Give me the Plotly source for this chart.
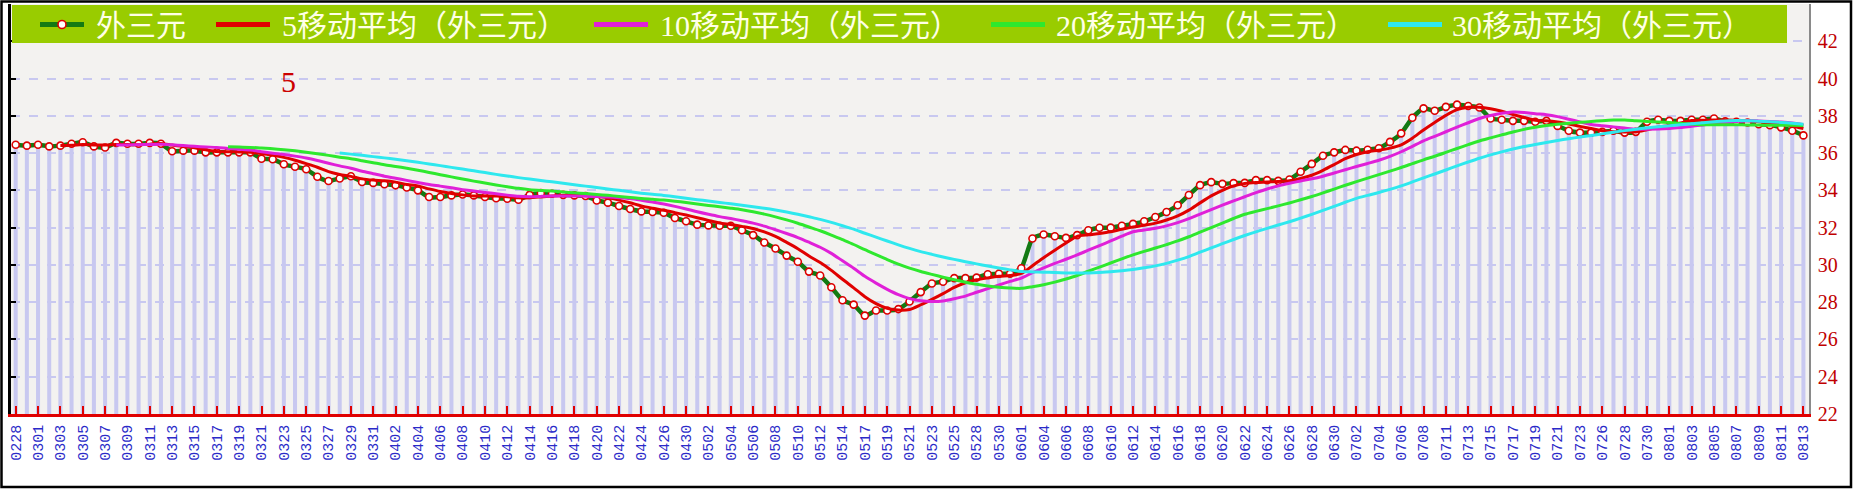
import plotly.graph_objects as go
import pandas as pd

# ---------------- data ----------------
dates = [
    "0228", "0229", "0301", "0302", "0303", "0304", "0305", "0306", "0307", "0308",
    "0309", "0310", "0311", "0312", "0313", "0314", "0315", "0316", "0317", "0318",
    "0319", "0320", "0321", "0322", "0323", "0324", "0325", "0326", "0327", "0328",
    "0329", "0330", "0331", "0401", "0402", "0403", "0404", "0405", "0406", "0407",
    "0408", "0409", "0410", "0411", "0412", "0413", "0414", "0415", "0416", "0417",
    "0418", "0419", "0420", "0421", "0422", "0423", "0424", "0425", "0426", "0427",
    "0430", "0501", "0502", "0503", "0504", "0505", "0506", "0507", "0508", "0509",
    "0510", "0511", "0512", "0513", "0514", "0516", "0517", "0518", "0519", "0520",
    "0521", "0522", "0523", "0524", "0525", "0527", "0528", "0529", "0530", "0531",
    "0601", "0603", "0604", "0605", "0606", "0607", "0608", "0609", "0610", "0611",
    "0612", "0613", "0614", "0615", "0616", "0617", "0618", "0619", "0620", "0621",
    "0622", "0623", "0624", "0625", "0626", "0627", "0628", "0629", "0630", "0701",
    "0702", "0703", "0704", "0705", "0706", "0707", "0708", "0710", "0711", "0712",
    "0713", "0714", "0715", "0716", "0717", "0718", "0719", "0720", "0721", "0722",
    "0723", "0725", "0726", "0727", "0728", "0729", "0730", "0731", "0801", "0802",
    "0803", "0804", "0805", "0806", "0807", "0808", "0809", "0810", "0811", "0812",
    "0813",
]

tick_labels = [
    "0228", "0301", "0303", "0305", "0307", "0309", "0311", "0313", "0315", "0317",
    "0319", "0321", "0323", "0325", "0327", "0329", "0331", "0402", "0404", "0406",
    "0408", "0410", "0412", "0414", "0416", "0418", "0420", "0422", "0424", "0426",
    "0430", "0502", "0504", "0506", "0508", "0510", "0512", "0514", "0517", "0519",
    "0521", "0523", "0525", "0528", "0530", "0601", "0604", "0606", "0608", "0610",
    "0612", "0614", "0616", "0618", "0620", "0622", "0624", "0626", "0628", "0630",
    "0702", "0704", "0706", "0708", "0711", "0713", "0715", "0717", "0719", "0721",
    "0723", "0726", "0728", "0730", "0801", "0803", "0805", "0807", "0809", "0811",
    "0813",
]

wai_san_yuan = [
    36.45, 36.40, 36.45, 36.36, 36.40, 36.50, 36.58, 36.36, 36.30, 36.55,
    36.50, 36.50, 36.55, 36.50, 36.10, 36.13, 36.13, 36.04, 36.04, 36.04,
    36.04, 36.04, 35.70, 35.67, 35.40, 35.27, 35.13, 34.73, 34.50, 34.64,
    34.76, 34.45, 34.40, 34.33, 34.27, 34.15, 34.00, 33.64, 33.64, 33.73,
    33.78, 33.73, 33.64, 33.58, 33.55, 33.50, 33.76, 33.85, 33.82, 33.76,
    33.73, 33.70, 33.46, 33.34, 33.16, 33.00, 32.87, 32.84, 32.80, 32.52,
    32.34, 32.16, 32.12, 32.10, 32.10, 31.86, 31.60, 31.20, 30.88, 30.50,
    30.17, 29.64, 29.43, 28.80, 28.10, 27.87, 27.28, 27.55, 27.55, 27.63,
    28.04, 28.54, 29.00, 29.10, 29.29, 29.29, 29.32, 29.50, 29.53, 29.53,
    29.82, 31.42, 31.63, 31.54, 31.45, 31.60, 31.86, 31.99, 32.00, 32.10,
    32.20, 32.34, 32.57, 32.84, 33.20, 33.75, 34.28, 34.44, 34.35, 34.39,
    34.40, 34.55, 34.55, 34.51, 34.58, 35.00, 35.42, 35.86, 36.04, 36.17,
    36.13, 36.18, 36.26, 36.60, 37.06, 37.90, 38.40, 38.27, 38.48, 38.60,
    38.53, 38.45, 37.86, 37.79, 37.73, 37.73, 37.68, 37.73, 37.46, 37.20,
    37.10, 37.10, 37.14, 37.20, 37.10, 37.14, 37.68, 37.79, 37.73, 37.73,
    37.79, 37.79, 37.86, 37.70, 37.68, 37.64, 37.55, 37.50, 37.38, 37.20,
    36.95,
]

ma_windows = [5, 10, 20, 30]
main_name = "外三元"
ma_names = ["5移动平均（外三元）", "10移动平均（外三元）", "20移动平均（外三元）", "30移动平均（外三元）"]
y_ticks = [22, 24, 26, 28, 30, 32, 34, 36, 38, 40, 42, 44]

# ---------------- style ----------------
W, H = 1853, 489
L, R, T, B = 11, 1809, 4, 414
main_color = "#137A13"
marker_edge = "#DD0000"
ma_colors = ["#E00000", "#E020D8", "#2EE82E", "#2EE8EE"]
bar_color = "#C8C8F0"
legend_bg = "#99CC00"
legend_text = "#FFFFE6"
cjk_serif = "Liberation Serif, Noto Sans CJK SC"


def px(x):
    return (x - L) / (R - L)


def py(y):
    return (B - y) / (B - T)


series = pd.Series(wai_san_yuan)
ma_values = [series.rolling(w).mean().round(3).tolist() for w in ma_windows]

fig = go.Figure()

# bars behind the series
fig.add_trace(go.Bar(x=dates, y=wai_san_yuan, marker=dict(color=bar_color, line=dict(width=0)),
                     showlegend=False, hoverinfo="skip"))

# main series
fig.add_trace(go.Scatter(
    x=dates, y=wai_san_yuan, name=main_name, mode="lines+markers",
    line=dict(color=main_color, width=4.5, shape="spline", smoothing=0.5),
    marker=dict(symbol="circle", size=7, color="white", line=dict(color=marker_edge, width=1.6)),
    showlegend=False,
))

# moving averages
for name, vals, col in zip(ma_names, ma_values, ma_colors):
    fig.add_trace(go.Scatter(
        x=dates, y=vals, name=name, mode="lines",
        line=dict(color=col, width=3, shape="spline", smoothing=0.8),
        showlegend=False, connectgaps=False,
    ))

# dummy trace for left axis
fig.add_trace(go.Scatter(x=[dates[0]], y=[None], yaxis="y2", showlegend=False, hoverinfo="skip"))

shapes = []
annotations = []

# legend box
shapes.append(dict(type="rect", xref="paper", yref="paper", x0=px(12), x1=px(1787), y0=py(43), y1=py(5),
                   fillcolor=legend_bg, line=dict(width=0), layer="above"))
legend_items = [
    (main_name, main_color, 40, 84, 94),
    (ma_names[0], ma_colors[0], 216, 270, 280),
    (ma_names[1], ma_colors[1], 594, 648, 658),
    (ma_names[2], ma_colors[2], 991, 1045, 1054),
    (ma_names[3], ma_colors[3], 1388, 1442, 1450),
]
for name, col, lx0, lx1, tx in legend_items:
    shapes.append(dict(type="line", xref="paper", yref="paper", x0=px(lx0), x1=px(lx1), y0=py(24.5), y1=py(24.5),
                       line=dict(color=col, width=5), layer="above"))
    annotations.append(dict(xref="paper", yref="paper", x=px(tx), y=py(25), text=name, showarrow=False,
                            xanchor="left", yanchor="middle",
                            font=dict(family=cjk_serif, size=30, color=legend_text)))
# marker on first legend symbol
shapes.append(dict(type="circle", xref="paper", yref="paper", x0=px(58), x1=px(66), y0=py(28.5), y1=py(20.5),
                   fillcolor="white", line=dict(color=marker_edge, width=1.6), layer="above"))

# red "5" label
annotations.append(dict(xref="paper", yref="paper", x=px(288), y=py(82), text="5", showarrow=False,
                        xanchor="center", yanchor="middle",
                        font=dict(family="Liberation Serif", size=30, color="#CC0000")))

# outer frame
shapes.append(dict(type="rect", xref="paper", yref="paper", x0=px(1.5), x1=px(W - 2), y0=py(H - 2), y1=py(1.5),
                   line=dict(color="black", width=2.5), fillcolor="rgba(0,0,0,0)", layer="above"))

fig.update_layout(
    width=W, height=H,
    margin=dict(l=L, r=W - R, t=T, b=H - B, pad=0),
    paper_bgcolor="white",
    plot_bgcolor="#F3F2F0",
    bargap=0.64,
    showlegend=False,
    shapes=shapes,
    annotations=annotations,
    xaxis=dict(
        type="category", categoryorder="array", categoryarray=dates,
        range=[-0.42, len(dates) - 0.5],
        tickmode="array", tickvals=tick_labels, ticktext=tick_labels,
        tickangle=-90, tickfont=dict(family="Liberation Mono", size=15, color="#2A2AC8"),
        ticks="inside", ticklen=8, tickwidth=1.5, tickcolor="#E00000",
        showline=True, linecolor="#E00000", linewidth=2.5,
        showgrid=False, zeroline=False, ticklabelstandoff=2,
    ),
    yaxis=dict(
        range=[22, 44], tickmode="array", tickvals=y_ticks, side="right",
        tickfont=dict(family="Liberation Serif", size=20, color="#C00000"),
        showgrid=True, gridcolor="#C8C8F0", griddash="dash", gridwidth=1.5,
        showline=True, linecolor="#8A8A8A", linewidth=1.5,
        ticks="", zeroline=False, ticklabelstandoff=3,
    ),
    yaxis2=dict(
        range=[22, 44], tickmode="array", tickvals=y_ticks, side="left", overlaying="y",
        showticklabels=False, showgrid=False, zeroline=False,
        showline=True, linecolor="black", linewidth=2.5,
        ticks="inside", ticklen=5, tickwidth=2, tickcolor="black",
    ),
)

fig.write_html("out.html", config={"displayModeBar": False},
               post_script="document.body.style.margin='0';document.body.style.overflow='hidden';")
